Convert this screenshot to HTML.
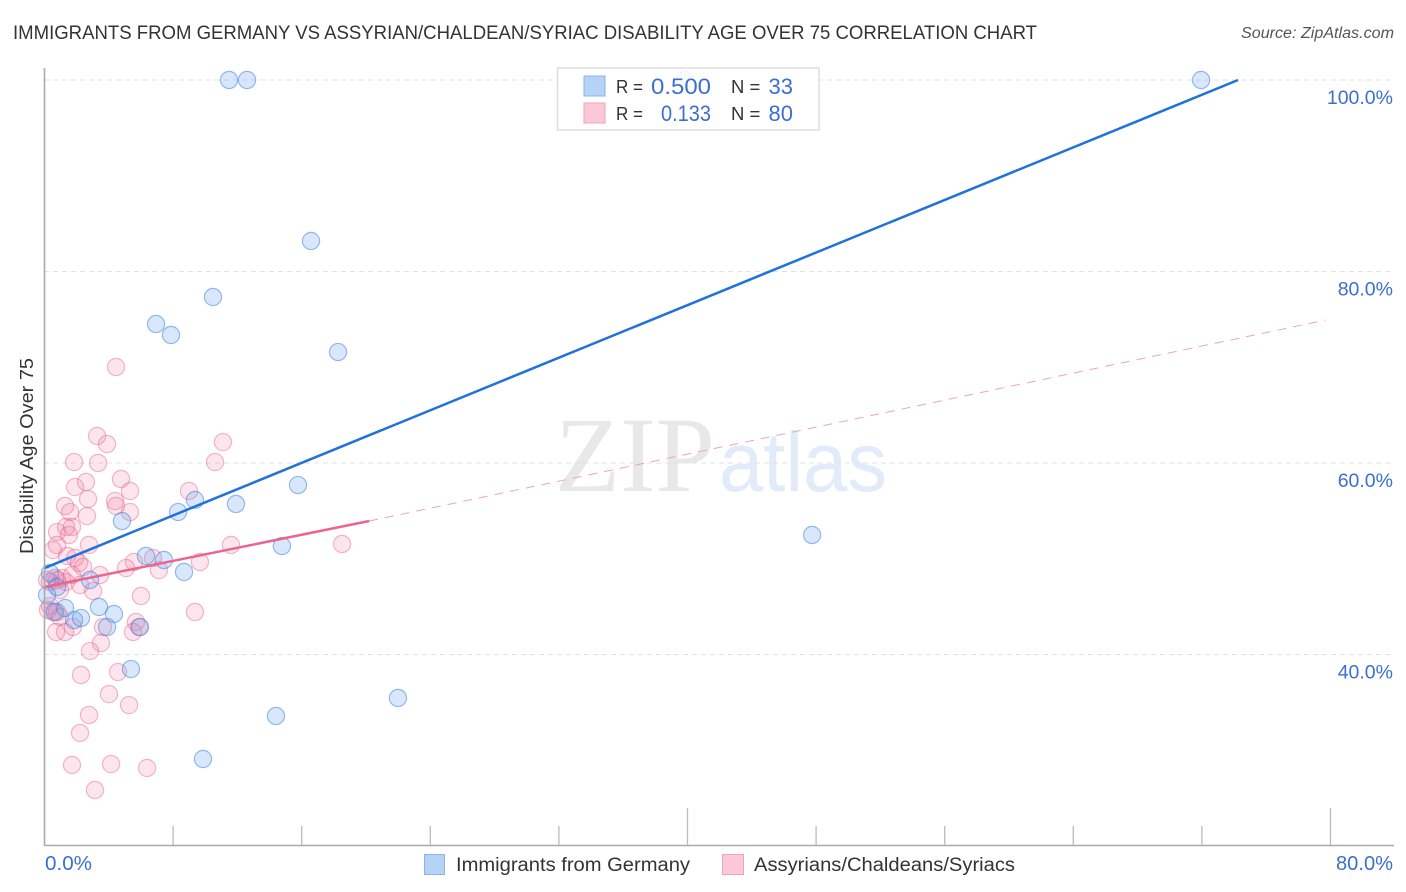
<!DOCTYPE html>
<html lang="en">
<head>
<meta charset="utf-8">
<title>Immigrants from Germany vs Assyrian/Chaldean/Syriac Disability Age Over 75 Correlation Chart</title>
<style>
html,body{margin:0;padding:0;background:#fff;}
svg{display:block;font-family:"Liberation Sans",sans-serif;}
</style>
</head>
<body>
<svg id="chart" width="1406" height="892" viewBox="0 0 1406 892" xmlns="http://www.w3.org/2000/svg">
  <g>
    <text x="555" y="491" font-family="'Liberation Serif',serif" font-size="107" fill="#e8e8e8" textLength="160" lengthAdjust="spacingAndGlyphs">ZIP</text>
    <text x="719" y="491" font-size="84" fill="#e2ebf9" textLength="168" lengthAdjust="spacingAndGlyphs">atlas</text>
  </g>
  <g id="grid"></g>
  <g id="pinkPoints"></g>
  <g id="bluePoints"></g>
  <g id="trends"></g>
  <g id="axes"></g>
  <g id="yLabels"></g>

  <text x="13" y="39" font-size="19" fill="#333" textLength="1024" lengthAdjust="spacingAndGlyphs">IMMIGRANTS FROM GERMANY VS ASSYRIAN/CHALDEAN/SYRIAC DISABILITY AGE OVER 75 CORRELATION CHART</text>
  <text x="1241" y="38" font-size="15.5" font-style="italic" fill="#555" textLength="153" lengthAdjust="spacingAndGlyphs">Source: ZipAtlas.com</text>
  <text transform="translate(33,456) rotate(-90)" font-size="18" fill="#333" text-anchor="middle" textLength="196" lengthAdjust="spacingAndGlyphs">Disability Age Over 75</text>
  <text x="45" y="870" font-size="20" fill="#3b6fd0" textLength="47" lengthAdjust="spacingAndGlyphs">0.0%</text>
  <text x="1336" y="870" font-size="20" fill="#3b6fd0" textLength="57" lengthAdjust="spacingAndGlyphs">80.0%</text>

  <g>
    <rect x="557.5" y="68" width="261.5" height="62" fill="#fff" fill-opacity="0.85" stroke="#ddd" stroke-width="1.5"/>
    <rect x="584" y="76" width="21" height="20" fill="#b5d3f7" stroke="#8ab4ea"/>
    <rect x="584" y="103" width="21" height="20" fill="#fcc8d8" stroke="#f0a3bb"/>
    <text x="616" y="93" font-size="18.5" fill="#333" textLength="27" lengthAdjust="spacingAndGlyphs">R =</text>
    <text x="651" y="94" font-size="22" fill="#3b6fd0" textLength="60" lengthAdjust="spacingAndGlyphs">0.500</text>
    <text x="731" y="93" font-size="18.5" fill="#333">N =</text>
    <text x="793" y="94" font-size="22" fill="#3b6fd0" text-anchor="end">33</text>
    <text x="616" y="120" font-size="18.5" fill="#333" textLength="27" lengthAdjust="spacingAndGlyphs">R =</text>
    <text x="661" y="121" font-size="22" fill="#3b6fd0" textLength="50" lengthAdjust="spacingAndGlyphs">0.133</text>
    <text x="731" y="120" font-size="18.5" fill="#333">N =</text>
    <text x="793" y="121" font-size="22" fill="#3b6fd0" text-anchor="end">80</text>
  </g>

  <g>
    <rect x="424.5" y="854.5" width="20" height="20" fill="#b5d3f7" stroke="#8ab4ea"/>
    <text x="456" y="871" font-size="19" fill="#333" textLength="234" lengthAdjust="spacingAndGlyphs">Immigrants from Germany</text>
    <rect x="722.5" y="854.5" width="21" height="20" fill="#fcc8d8" stroke="#f0a3bb"/>
    <text x="754" y="871" font-size="19" fill="#333" textLength="261" lengthAdjust="spacingAndGlyphs">Assyrians/Chaldeans/Syriacs</text>
  </g>
</svg>
<script>
const yTicks = [100, 80, 60, 40];
const yTickLabels = ["100.0%", "80.0%", "60.0%", "40.0%"];
const xTicks = [0, 8, 16, 24, 32, 40, 48, 56, 64, 72, 80];
const xMajorTicks = [40, 80];

const blueX = [11.48,12.60,39.84,71.95,16.58,10.48,6.94,7.87,18.26,9.36,11.91,15.77,8.31,4.82,14.77,6.31,7.43,8.68,47.75,2.83,0.34,0.78,0.16,1.28,0.65,1.84,2.27,3.39,4.32,3.89,5.94,5.38,21.99,14.40,9.86];
const blueY = [100,100,100,100,83.19,77.34,74.52,73.37,71.59,56.14,55.72,57.70,54.88,53.94,51.33,50.29,49.87,48.62,52.48,47.78,48.51,47.05,46.21,44.86,44.44,43.60,43.81,44.96,44.23,42.87,42.87,38.48,35.46,33.58,29.09];

const pinkX = [3.27,3.89,1.84,3.33,11.10,10.61,2.58,1.90,4.76,5.32,2.71,1.28,1.59,4.39,4.45,5.32,2.64,8.99,0.78,1.71,1.34,1.52,0.78,0.53,2.77,1.40,1.90,2.15,2.40,11.60,5.07,5.57,6.75,7.12,9.67,3.45,2.21,3.02,6.00,9.36,18.51,4.45,0.78,1.09,0.65,0.34,0.16,1.34,1.71,0.96,0.53,0.22,0.78,0.34,0.96,0.72,1.28,1.77,3.64,5.69,5.51,5.88,3.51,2.83,2.27,4.57,4.01,5.26,2.77,2.21,1.71,4.14,6.38,3.14];
const pinkY = [62.82,61.98,60.10,60.00,62.19,60.10,58.02,57.49,58.33,57.08,56.24,55.51,54.88,56.03,55.51,54.88,54.46,57.08,52.79,53.32,53.32,52.48,51.44,50.91,51.44,50.29,50.08,49.56,49.14,51.44,49.03,49.66,50.08,48.82,49.66,48.30,47.26,46.63,46.11,44.44,51.54,70.03,47.78,47.99,47.99,47.57,47.78,47.57,48.30,46.74,44.44,44.65,44.44,45.06,43.92,42.35,42.35,42.87,42.87,43.39,42.35,42.87,41.20,40.36,37.86,38.17,35.87,34.72,33.68,31.80,28.46,28.56,28.15,25.85];

const blueTrendX = [0, 74.25];
const blueTrendY = [49.03, 100];
const pinkSolidX = [0, 20.2];
const pinkSolidY = [47.05, 53.94];
const pinkDashX = [20.2, 79.7];
const pinkDashY = [53.94, 74.93];

const NS = "http://www.w3.org/2000/svg";
const xScale = v => 44.5 + v * 16.075;
const yScale = v => 80 + (100 - v) * 9.575;

function make(tag, attrs, parent) {
  const el = document.createElementNS(NS, tag);
  for (const k in attrs) el.setAttribute(k, attrs[k]);
  parent.appendChild(el);
  return el;
}

const gridG = document.getElementById("grid");
yTicks.forEach(v => {
  const el = make("line", {x1: 44, x2: 1394, y1: yScale(v), y2: yScale(v), stroke: "#e2e2e2", "stroke-width": 1, "stroke-dasharray": "5 4"}, gridG);
  
  
});

const pinkG = document.getElementById("pinkPoints");
pinkX.forEach((v, i) => {
  const el = make("circle", {cx: xScale(v), cy: yScale(pinkY[i]), r: 8.6, fill: "rgba(240,125,160,0.2)", stroke: "rgba(228,100,145,0.45)", "stroke-width": 1.2}, pinkG);
  
  
});

const blueG = document.getElementById("bluePoints");
blueX.forEach((v, i) => {
  const el = make("circle", {cx: xScale(v), cy: yScale(blueY[i]), r: 8.6, fill: "rgba(110,165,240,0.27)", stroke: "rgba(55,125,220,0.5)", "stroke-width": 1.2}, blueG);
  
  
});

const trendG = document.getElementById("trends");
const dashLine = make("line", {x1: xScale(pinkDashX[0]), y1: yScale(pinkDashY[0]), x2: xScale(pinkDashX[1]), y2: yScale(pinkDashY[1]), stroke: "#e9a5bd", "stroke-width": 1, "stroke-dasharray": "9 7"}, trendG);


const pinkLine = make("line", {x1: xScale(pinkSolidX[0]), y1: yScale(pinkSolidY[0]), x2: xScale(pinkSolidX[1]), y2: yScale(pinkSolidY[1]), stroke: "#ec6490", "stroke-width": 2.5}, trendG);


const blueLine = make("line", {x1: xScale(blueTrendX[0]), y1: yScale(blueTrendY[0]), x2: xScale(blueTrendX[1]), y2: yScale(blueTrendY[1]), stroke: "#1f72dc", "stroke-width": 2.5}, trendG);



const axesG = document.getElementById("axes");
const yAxis = make("line", {x1: 44.5, x2: 44.5, y1: 68, y2: 846, stroke: "#aaa", "stroke-width": 1.6}, axesG);


const xAxis = make("line", {x1: 44, x2: 1394, y1: 845.5, y2: 845.5, stroke: "#aaa", "stroke-width": 1.6}, axesG);


xTicks.slice(1).forEach(v => {
  const el = make("line", {x1: xScale(v), x2: xScale(v), y1: xMajorTicks.includes(v) ? 808 : 826, y2: 845, stroke: "#bbb", "stroke-width": 1.3}, axesG);
  
  
});

const labelG = document.getElementById("yLabels");
yTicks.forEach((v, i) => {
  const el = make("text", {x: 1393, y: yScale(v) + 24, "font-size": 19.5, fill: "#3b6fd0", "text-anchor": "end"}, labelG);
  
  
  el.textContent = yTickLabels[i];
});
</script>
</body>
</html>
